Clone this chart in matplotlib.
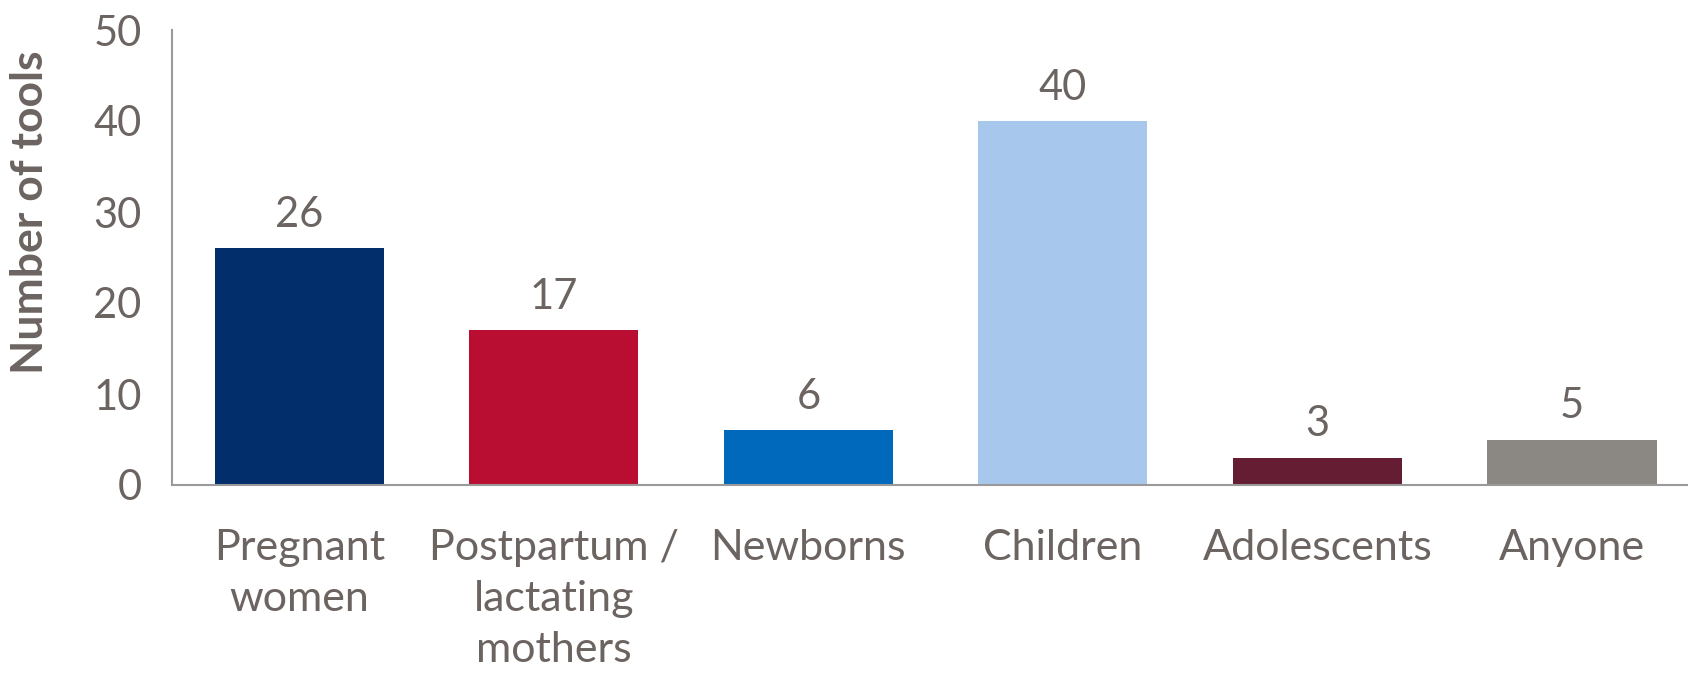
import matplotlib.pyplot as plt
import numpy as np

categories = ["Pregnant\nwomen", "Postpartum /\nlactating\nmothers", "Newborns",
              "Children", "Adolescents", "Anyone"]
counts = [26, 17, 6, 40, 3, 5]
bar_colors = ["#022F6B", "#B90E31", "#0069BB", "#A7C7EC", "#641D32", "#8B8782"]
yticks = [0, 10, 20, 30, 40, 50]

text_color = "#6B6461"
plt.rcParams['font.family'] = ['Lato', 'DejaVu Sans']

W, H = 1688, 674
fig = plt.figure(figsize=(W / 100, H / 100), dpi=100)
ax = fig.add_axes([172 / W, 1 - 485 / H, 1 - 172 / W, (485 - 30) / H])

x = np.arange(len(categories))
ax.bar(x, counts, width=0.665, color=bar_colors, zorder=2)

for xi, v in zip(x, counts):
    ax.annotate(str(v), (xi, v), xytext=(0, 24), textcoords="offset points",
                ha="center", va="center", fontsize=30, color=text_color)

ax.set_xlim(-0.5, 5.456)
ax.set_ylim(0, 50)
ax.set_yticks(yticks)
ax.set_yticklabels([str(t) for t in yticks], fontsize=30, color=text_color)
ax.set_xticks(x)
ax.set_xticklabels(categories, fontsize=31, color=text_color, linespacing=1.42)
ax.tick_params(axis="both", length=0)
ax.tick_params(axis="y", pad=22)
ax.tick_params(axis="x", pad=32)

fig.text(30 / W, 1 - 212 / H, "Number of tools", rotation=90, ha="center", va="center",
         fontsize=32, fontweight="bold", color=text_color)

for side in ["top", "right"]:
    ax.spines[side].set_visible(False)
for side in ["left", "bottom"]:
    ax.spines[side].set_color("#9A9A9A")
    ax.spines[side].set_linewidth(1.5)

fig.savefig("out.png", dpi=100)
